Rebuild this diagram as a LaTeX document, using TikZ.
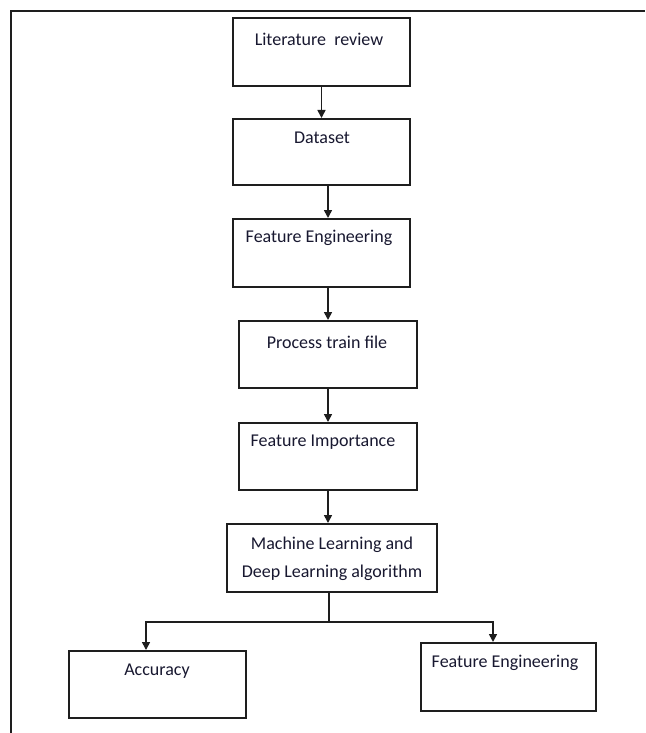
\documentclass[tikz,border=0pt]{standalone}
\usepackage{fontspec}
\setmainfont{Carlito}
\usetikzlibrary{arrows.meta}
\definecolor{txt}{RGB}{24,24,48}
\definecolor{ln}{RGB}{30,30,30}
\tikzset{
  box/.style={draw=ln, line width=2pt, rectangle, minimum width=#1, inner sep=0pt},
  box/.default=177pt,
  lbl/.style={font=\fontsize{18}{22}\selectfont, text=txt, inner sep=0pt, align=center},
  arr/.style={draw=ln, line width=1.6pt, -{Triangle[length=8pt,width=8pt]}},
  conn/.style={draw=ln, line width=1.6pt},
}
\begin{document}
\begin{tikzpicture}[x=1pt,y=-1pt]
\useasboundingbox (0,0) rectangle (645,733);
\fill[white] (0,0) rectangle (645,733);
% frame
\draw[ln, line width=2.8pt] (11,733) -- (11,11) -- (645,11);
% boxes
\node[box, minimum height=68pt] (b1) at (321.5,52) {};
\node[box, minimum height=66pt] (b2) at (321.5,152) {};
\node[box, minimum height=68pt] (b3) at (321.5,253) {};
\node[box=178pt, minimum height=67pt] (b4) at (328,354.5) {};
\node[box=178pt, minimum height=67pt] (b5) at (328,456.5) {};
\node[box=210pt, minimum height=68pt] (b6) at (332,558) {};
\node[box, minimum height=67pt] (b7) at (157.5,684.5) {};
\node[box=175pt, minimum height=68pt] (b8) at (508.5,677) {};
% labels
\node[lbl] (t1) at (319,39) {Literature~ review};
\node[lbl] (t2) at (322,138) {Dataset};
\node[lbl] (t3) at (319,238) {Feature Engineering};
\node[lbl] (t4) at (327,342) {Process train file};
\node[lbl] (t5) at (323,442) {Feature Importance};
\node[lbl] (t6a) at (332,545) {Machine Learning and};
\node[lbl] (t6b) at (332,573) {Deep Learning algorithm};
\node[lbl] (t7) at (157,671) {Accuracy};
\node[lbl] (t8) at (505,663) {Feature Engineering};
% connectors
\draw[arr] (b1.south) -- (b2.north);
\draw[arr] ([xshift=6.5pt]b2.south) -- ([xshift=6.5pt]b3.north);
\draw[arr] (b3.south -| b4.north) -- (b4.north);
\draw[arr] (b4.south) -- (b5.north);
\draw[arr] (b5.south) -- (b5.south |- b6.north);
\coordinate (j) at ([xshift=-3pt,yshift=-29pt]b6.south);
\draw[conn] ([xshift=-3pt]b6.south) -- (j);
\draw[arr] (j) -| ([xshift=-11.5pt]b7.north);
\draw[arr] (j) -| ([xshift=-15.5pt]b8.north);
\end{tikzpicture}
\end{document}
